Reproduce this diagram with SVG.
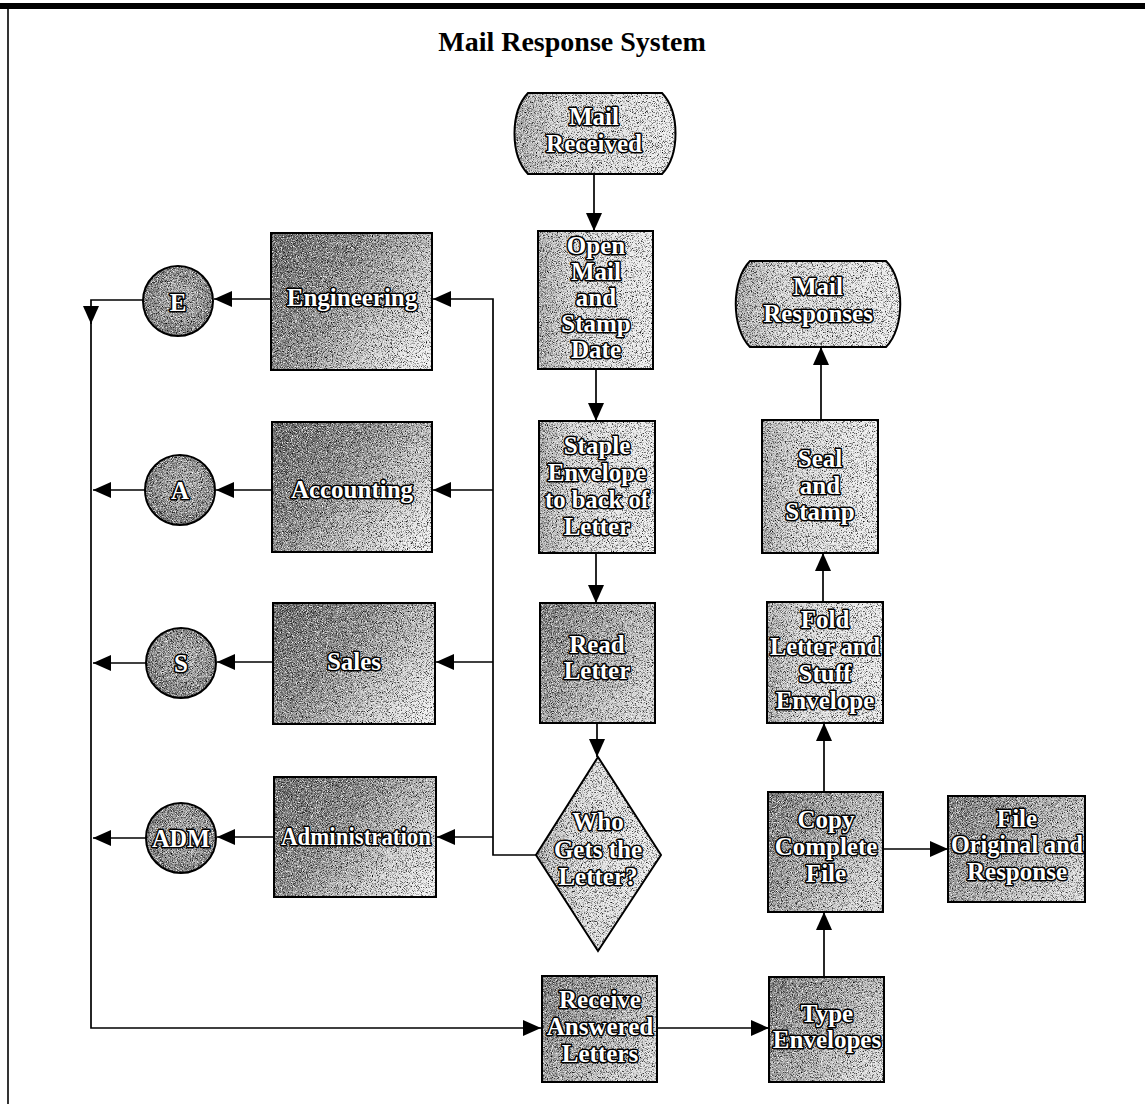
<svg xmlns="http://www.w3.org/2000/svg" width="1145" height="1104" viewBox="0 0 1145 1104">
<style>
.title{font-family:"Liberation Serif","Times New Roman",serif;font-weight:bold;font-size:28px;fill:#000;text-anchor:middle}
.t{font-family:"Liberation Serif","Times New Roman",serif;font-weight:bold;font-size:25px;fill:#fff;stroke:#000;stroke-width:3px;paint-order:stroke fill;stroke-linejoin:round;text-anchor:middle}
.edge{fill:none;stroke:#000;stroke-width:2}
.c{fill:none;stroke:#000;stroke-width:1.7}
.frame{stroke:#000;fill:none}
</style>
<defs>
<marker id="ah" markerUnits="userSpaceOnUse" markerWidth="18" markerHeight="16" refX="18" refY="8" orient="auto"><path d="M0,0 L18,8 L0,16 Z" fill="#000"/></marker>
<filter id="grain" x="0" y="0" width="100%" height="100%" color-interpolation-filters="sRGB">
<feTurbulence type="fractalNoise" baseFrequency="1.2" numOctaves="2" seed="5" result="n"/>
<feColorMatrix in="n" type="matrix" values="0 0 0 0 0  0 0 0 0 0  0 0 0 0 0  3 0 0 0 -1.55" result="dk"/>
<feColorMatrix in="n" type="matrix" values="0 0 0 0 1  0 0 0 0 1  0 0 0 0 1  -3 0 0 0 1.5" result="lt"/>
<feComposite in="dk" in2="SourceGraphic" operator="in" result="dk2"/>
<feComposite in="lt" in2="SourceGraphic" operator="in" result="lt2"/>
<feMerge><feMergeNode in="SourceGraphic"/><feMergeNode in="dk2"/><feMergeNode in="lt2"/></feMerge>
</filter>
<linearGradient id="gDept" x1="0" y1="0.2" x2="1" y2="0.8">
<stop offset="0" stop-color="#6c6c6c"/><stop offset="0.4" stop-color="#8c8c8c"/><stop offset="0.72" stop-color="#c6c6c6"/><stop offset="1" stop-color="#ececec"/>
</linearGradient>
<linearGradient id="gLight" x1="0" y1="0" x2="1" y2="0">
<stop offset="0" stop-color="#a8a8a8"/><stop offset="0.3" stop-color="#d6d6d6"/><stop offset="1" stop-color="#ececec"/>
</linearGradient>
<linearGradient id="gMid" x1="0" y1="0" x2="1" y2="0.6">
<stop offset="0" stop-color="#787878"/><stop offset="0.5" stop-color="#a4a4a4"/><stop offset="1" stop-color="#d6d6d6"/>
</linearGradient>
<radialGradient id="gCirc" cx="0.55" cy="0.45" r="0.6">
<stop offset="0" stop-color="#b4b4b4"/><stop offset="1" stop-color="#767676"/>
</radialGradient>
</defs>

<rect x="0" y="3" width="1145" height="6" fill="#000"/>
<line class="frame" x1="8" y1="6" x2="8" y2="1104" stroke-width="1.6"/>
<text class="title" x="572" y="51">Mail Response System</text>

<g id="connectors">
<path class="c" d="M594,175 V231" marker-end="url(#ah)"/>
<path class="c" d="M596,369 V421" marker-end="url(#ah)"/>
<path class="c" d="M596,553 V603" marker-end="url(#ah)"/>
<path class="c" d="M597,723 V757" marker-end="url(#ah)"/>
<path class="c" d="M536,855 H493 V299 H433" marker-end="url(#ah)"/>
<path class="c" d="M493,490 H433" marker-end="url(#ah)"/>
<path class="c" d="M493,662 H436" marker-end="url(#ah)"/>
<path class="c" d="M493,837 H437" marker-end="url(#ah)"/>
<path class="c" d="M271,299 H214" marker-end="url(#ah)"/>
<path class="c" d="M272,490 H216" marker-end="url(#ah)"/>
<path class="c" d="M273,662 H217" marker-end="url(#ah)"/>
<path class="c" d="M274,837 H217" marker-end="url(#ah)"/>
<path class="c" d="M143,300 H91 V324" marker-end="url(#ah)"/>
<path class="c" d="M91,320 V1028 H541" marker-end="url(#ah)"/>
<path class="c" d="M145,490 H93" marker-end="url(#ah)"/>
<path class="c" d="M146,663 H93" marker-end="url(#ah)"/>
<path class="c" d="M146,838 H93" marker-end="url(#ah)"/>
<path class="c" d="M657,1028 H769" marker-end="url(#ah)"/>
<path class="c" d="M824,977 V912" marker-end="url(#ah)"/>
<path class="c" d="M824,792 V723" marker-end="url(#ah)"/>
<path class="c" d="M823,602 V553" marker-end="url(#ah)"/>
<path class="c" d="M821,420 V347" marker-end="url(#ah)"/>
<path class="c" d="M883,849 H948" marker-end="url(#ah)"/>
</g>

<g id="mail-received">
<path d="M528,93 H662 C680,112 680,155 662,174 H528 C510,155 510,112 528,93 Z" fill="url(#gLight)" filter="url(#grain)"/>
<path class="edge" d="M528,93 H662 C680,112 680,155 662,174 H528 C510,155 510,112 528,93 Z"/>
<text class="t" x="594" y="125">Mail</text>
<text class="t" x="594" y="152">Received</text>
</g>

<g id="open-mail">
<rect x="538" y="231" width="115" height="138" fill="url(#gLight)" filter="url(#grain)"/>
<rect class="edge" x="538" y="231" width="115" height="138"/>
<text class="t" x="596" y="254">Open</text>
<text class="t" x="596" y="280">Mail</text>
<text class="t" x="596" y="306">and</text>
<text class="t" x="596" y="332">Stamp</text>
<text class="t" x="596" y="358">Date</text>
</g>

<g id="staple">
<rect x="539" y="421" width="116" height="132" fill="url(#gLight)" filter="url(#grain)"/>
<rect class="edge" x="539" y="421" width="116" height="132"/>
<text class="t" x="597" y="454">Staple</text>
<text class="t" x="597" y="481">Envelope</text>
<text class="t" x="597" y="508" textLength="104" lengthAdjust="spacingAndGlyphs">to back of</text>
<text class="t" x="597" y="535">Letter</text>
</g>

<g id="read-letter">
<rect x="540" y="603" width="115" height="120" fill="url(#gMid)" filter="url(#grain)"/>
<rect class="edge" x="540" y="603" width="115" height="120"/>
<text class="t" x="597" y="653">Read</text>
<text class="t" x="597" y="679">Letter</text>
</g>

<g id="who-gets">
<path d="M598,757 L661,855 L598,951 L536,855 Z" fill="url(#gLight)" filter="url(#grain)"/>
<path class="edge" d="M598,757 L661,855 L598,951 L536,855 Z"/>
<text class="t" x="598" y="830">Who</text>
<text class="t" x="598" y="858">Gets the</text>
<text class="t" x="598" y="885">Letter?</text>
</g>

<g id="engineering">
<rect x="271" y="233" width="161" height="137" fill="url(#gDept)" filter="url(#grain)"/>
<rect class="edge" x="271" y="233" width="161" height="137"/>
<text class="t" x="352" y="306">Engineering</text>
</g>

<g id="accounting">
<rect x="272" y="422" width="160" height="130" fill="url(#gDept)" filter="url(#grain)"/>
<rect class="edge" x="272" y="422" width="160" height="130"/>
<text class="t" x="352" y="498">Accounting</text>
</g>

<g id="sales">
<rect x="273" y="603" width="162" height="121" fill="url(#gDept)" filter="url(#grain)"/>
<rect class="edge" x="273" y="603" width="162" height="121"/>
<text class="t" x="354" y="670">Sales</text>
</g>

<g id="administration">
<rect x="274" y="777" width="162" height="120" fill="url(#gDept)" filter="url(#grain)"/>
<rect class="edge" x="274" y="777" width="162" height="120"/>
<text class="t" x="356" y="845" textLength="150" lengthAdjust="spacingAndGlyphs">Administration</text>
</g>

<g id="circle-e">
<circle cx="178" cy="301" r="35" fill="url(#gCirc)" filter="url(#grain)"/>
<circle class="edge" cx="178" cy="301" r="35"/>
<text class="t" x="178" y="311">E</text>
</g>
<g id="circle-a">
<circle cx="180" cy="490" r="35" fill="url(#gCirc)" filter="url(#grain)"/>
<circle class="edge" cx="180" cy="490" r="35"/>
<text class="t" x="180" y="499">A</text>
</g>
<g id="circle-s">
<circle cx="181" cy="663" r="35" fill="url(#gCirc)" filter="url(#grain)"/>
<circle class="edge" cx="181" cy="663" r="35"/>
<text class="t" x="181" y="672">S</text>
</g>
<g id="circle-adm">
<circle cx="181" cy="838" r="35" fill="url(#gCirc)" filter="url(#grain)"/>
<circle class="edge" cx="181" cy="838" r="35"/>
<text class="t" x="181" y="847" textLength="58" lengthAdjust="spacingAndGlyphs">ADM</text>
</g>

<g id="receive">
<rect x="542" y="976" width="115" height="106" fill="url(#gMid)" filter="url(#grain)"/>
<rect class="edge" x="542" y="976" width="115" height="106"/>
<text class="t" x="600" y="1008">Receive</text>
<text class="t" x="600" y="1035">Answered</text>
<text class="t" x="600" y="1062">Letters</text>
</g>

<g id="type-envelopes">
<rect x="769" y="977" width="115" height="105" fill="url(#gMid)" filter="url(#grain)"/>
<rect class="edge" x="769" y="977" width="115" height="105"/>
<text class="t" x="827" y="1022">Type</text>
<text class="t" x="827" y="1048">Envelopes</text>
</g>

<g id="copy-file">
<rect x="768" y="792" width="115" height="120" fill="url(#gMid)" filter="url(#grain)"/>
<rect class="edge" x="768" y="792" width="115" height="120"/>
<text class="t" x="826" y="828">Copy</text>
<text class="t" x="826" y="855">Complete</text>
<text class="t" x="826" y="882">File</text>
</g>

<g id="file-original">
<rect x="948" y="796" width="137" height="106" fill="url(#gMid)" filter="url(#grain)"/>
<rect class="edge" x="948" y="796" width="137" height="106"/>
<text class="t" x="1017" y="827">File</text>
<text class="t" x="1017" y="853" textLength="132" lengthAdjust="spacingAndGlyphs">Original and</text>
<text class="t" x="1017" y="880">Response</text>
</g>

<g id="fold-letter">
<rect x="767" y="602" width="116" height="121" fill="url(#gLight)" filter="url(#grain)"/>
<rect class="edge" x="767" y="602" width="116" height="121"/>
<text class="t" x="825" y="628">Fold</text>
<text class="t" x="825" y="655" textLength="110" lengthAdjust="spacingAndGlyphs">Letter and</text>
<text class="t" x="825" y="682">Stuff</text>
<text class="t" x="825" y="709">Envelope</text>
</g>

<g id="seal-stamp">
<rect x="762" y="420" width="116" height="133" fill="url(#gLight)" filter="url(#grain)"/>
<rect class="edge" x="762" y="420" width="116" height="133"/>
<text class="t" x="820" y="467">Seal</text>
<text class="t" x="820" y="494">and</text>
<text class="t" x="820" y="520">Stamp</text>
</g>

<g id="mail-responses">
<path d="M750,261 H886 C905,280 905,328 886,347 H750 C731,328 731,280 750,261 Z" fill="url(#gLight)" filter="url(#grain)"/>
<path class="edge" d="M750,261 H886 C905,280 905,328 886,347 H750 C731,328 731,280 750,261 Z"/>
<text class="t" x="818" y="295">Mail</text>
<text class="t" x="818" y="322">Responses</text>
</g>
</svg>
